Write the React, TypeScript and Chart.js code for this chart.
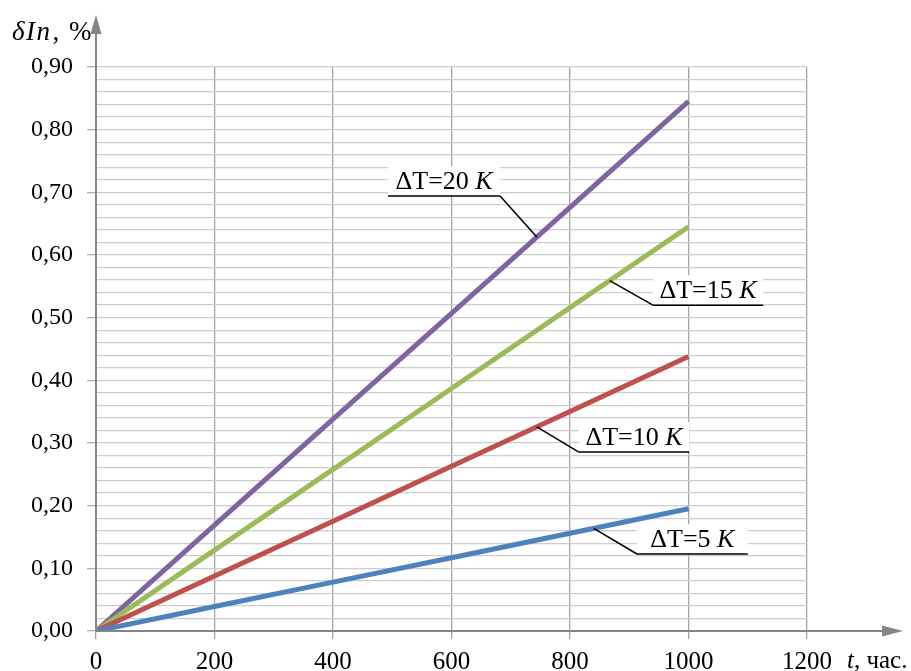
import React, { useEffect, useRef } from "react";
import { Chart, registerables } from "chart.js";

Chart.register(...registerables);

const hours = [0, 200, 400, 600, 800, 1000];
const dT5 = [0, 0.039, 0.078, 0.117, 0.156, 0.195];
const dT10 = [0, 0.0876, 0.1752, 0.2628, 0.3504, 0.438];
const dT15 = [0, 0.129, 0.258, 0.387, 0.516, 0.645];
const dT20 = [0, 0.169, 0.338, 0.507, 0.676, 0.845];

const seriesNames = ["ΔT=5 K", "ΔT=10 K", "ΔT=15 K", "ΔT=20 K"];
const seriesColors = ["#4f81bd", "#c0504d", "#9bbb59", "#8064a2"];
const seriesValues = [dT5, dT10, dT15, dT20];

const xTickStep = 200;
const yMinorStep = 0.02;

// callout labels: text prefix, italic unit, underline span (data x), underline level (data y), target x on series, side of leader
const callouts = [
  { s: 3, pre: "ΔT=20 ", unit: "K", x1: 493, x2: 682, y: 0.694, tx: 744, side: "right" },
  { s: 2, pre: "ΔT=15 ", unit: "K", x1: 940, x2: 1126, y: 0.52, tx: 867, side: "left" },
  { s: 1, pre: "ΔT=10 ", unit: "K", x1: 815, x2: 1001, y: 0.2856, tx: 744, side: "left" },
  { s: 0, pre: "ΔT=5 ", unit: "K", x1: 913, x2: 1100, y: 0.1229, tx: 840, side: "left" },
];

const FONT = "'Liberation Serif', 'Times New Roman', serif";
const LABEL_SIZE = 26;

function interp(xs: number[], ys: number[], x: number) {
  for (let i = 0; i < xs.length - 1; i++) {
    if (x >= xs[i] && x <= xs[i + 1]) {
      const t = (x - xs[i]) / (xs[i + 1] - xs[i]);
      return ys[i] + t * (ys[i + 1] - ys[i]);
    }
  }
  return ys[ys.length - 1];
}

const decorPlugin = {
  id: "decor",
  afterDatasetsDraw(chart: any) {
    const ctx = chart.ctx;
    const xs = chart.scales.x;
    const ys = chart.scales.y;
    const ca = chart.chartArea;
    ctx.save();
    // callouts
    for (const c of callouts) {
      const px1 = xs.getPixelForValue(c.x1);
      const px2 = xs.getPixelForValue(c.x2);
      const py = ys.getPixelForValue(c.y);
      const tx = xs.getPixelForValue(c.tx);
      const ty = ys.getPixelForValue(interp(hours, seriesValues[c.s], c.tx));
      ctx.fillStyle = "#ffffff";
      ctx.fillRect(px1, py - 30, px2 - px1, 29);
      ctx.strokeStyle = "#000000";
      ctx.lineWidth = 1.5;
      ctx.beginPath();
      const sx = c.side === "left" ? px1 : px2;
      ctx.moveTo(tx, ty);
      ctx.lineTo(sx, py);
      ctx.moveTo(px1, py);
      ctx.lineTo(px2, py);
      ctx.stroke();
      ctx.fillStyle = "#000000";
      ctx.textBaseline = "alphabetic";
      ctx.font = `${LABEL_SIZE}px ${FONT}`;
      const w1 = ctx.measureText(c.pre).width;
      ctx.font = `italic ${LABEL_SIZE}px ${FONT}`;
      const w2 = ctx.measureText(c.unit).width;
      const start = (px1 + px2) / 2 - (w1 + w2) / 2;
      ctx.textAlign = "left";
      ctx.font = `${LABEL_SIZE}px ${FONT}`;
      ctx.fillText(c.pre, start, py - 7);
      ctx.font = `italic ${LABEL_SIZE}px ${FONT}`;
      ctx.fillText(c.unit, start + w1, py - 7);
    }
    // axes with arrows
    const axisColor = "#858585";
    ctx.strokeStyle = axisColor;
    ctx.fillStyle = axisColor;
    ctx.lineWidth = 2;
    const x0 = ca.left;
    const y0 = ca.bottom;
    ctx.beginPath();
    ctx.moveTo(x0, y0);
    ctx.lineTo(x0, 32);
    ctx.moveTo(x0, y0);
    ctx.lineTo(884, y0);
    ctx.stroke();
    ctx.beginPath();
    ctx.moveTo(x0, 15);
    ctx.lineTo(x0 - 5.5, 34);
    ctx.lineTo(x0 + 5.5, 34);
    ctx.closePath();
    ctx.fill();
    ctx.beginPath();
    ctx.moveTo(903, y0);
    ctx.lineTo(882, y0 - 5.5);
    ctx.lineTo(882, y0 + 5.5);
    ctx.closePath();
    ctx.fill();
    // axis titles
    ctx.fillStyle = "#000000";
    ctx.textBaseline = "alphabetic";
    ctx.textAlign = "left";
    ctx.letterSpacing = "1.5px";
    let x = 12;
    ctx.font = `italic 27px ${FONT}`;
    ctx.fillText("δIn", x, 40);
    x += ctx.measureText("δIn").width + 1;
    ctx.font = `27px ${FONT}`;
    ctx.fillText(", %", x, 40);
    ctx.letterSpacing = "0px";
    x = 847;
    ctx.font = `italic 25px ${FONT}`;
    ctx.fillText("t", x, 668);
    x += ctx.measureText("t").width;
    ctx.font = `25px ${FONT}`;
    ctx.fillText(", час.", x, 668);
    ctx.restore();
  },
};

function isMajor(v: number) {
  return Math.abs(Math.round(v * 100) % 10) === 0;
}

export default function App() {
  const ref = useRef<HTMLCanvasElement>(null);
  useEffect(() => {
    if (!ref.current) return;
    const chart = new Chart(ref.current, {
      type: "line",
      data: {
        datasets: seriesValues.map((vals, i) => ({
          label: seriesNames[i],
          data: hours.map((h, j) => ({ x: h, y: vals[j] })),
          borderColor: seriesColors[i],
          backgroundColor: seriesColors[i],
          borderWidth: 5,
          pointRadius: 0,
          tension: 0,
          borderCapStyle: "butt",
        })),
      },
      options: {
        responsive: false,
        animation: false,
        devicePixelRatio: 1,
        layout: { padding: { top: 67, right: 104, bottom: 0, left: 0 } },
        plugins: { legend: { display: false }, tooltip: { enabled: false } },
        scales: {
          x: {
            type: "linear",
            min: 0,
            max: 1200,
            afterFit: (s: any) => {
              s.height = 40;
            },
            ticks: {
              stepSize: xTickStep,
              color: "#000000",
              font: { family: FONT, size: 25 },
              padding: 8,
              maxRotation: 0,
              callback: (v: any) => String(v),
            },
            grid: {
              color: "#a3a3a3",
              lineWidth: 1.3,
              tickLength: 8,
              tickColor: "#a3a3a3",
            },
            border: { display: false },
          },
          y: {
            type: "linear",
            min: 0,
            max: 0.9,
            afterFit: (s: any) => {
              s.width = 96;
            },
            ticks: {
              stepSize: yMinorStep,
              autoSkip: false,
              color: "#000000",
              font: { family: FONT, size: 24 },
              padding: 14,
              callback: (v: any) => (isMajor(Number(v)) ? Number(v).toFixed(2).replace(".", ",") : ""),
            },
            grid: {
              color: "#cdcdcd",
              lineWidth: 1.3,
              tickLength: 9,
              tickColor: (c: any) => (isMajor(c.tick.value) ? "#b0b0b0" : "rgba(0,0,0,0)"),
            },
            border: { display: false },
          },
        },
      },
      plugins: [decorPlugin],
    });
    return () => chart.destroy();
  }, []);
  return (
    <div style={{ position: "absolute", left: 0, top: 0, width: 911, height: 671, background: "#fff" }}>
      <canvas ref={ref} width={911} height={671} />
    </div>
  );
}
